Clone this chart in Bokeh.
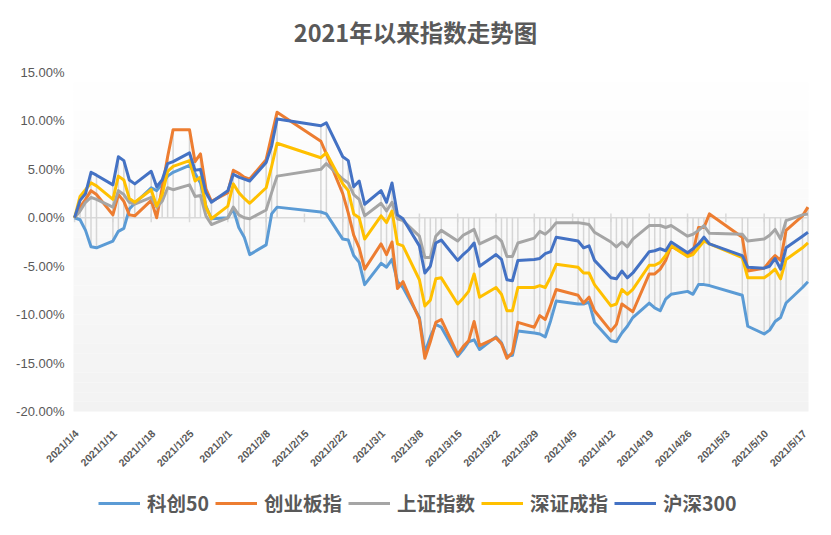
import numpy as np
import pandas as pd
from math import pi
from bokeh.plotting import figure
from bokeh.models import Range1d, Legend, LegendItem, BoxAnnotation, Label
from bokeh.core.properties import value
from bokeh.embed import file_html
from bokeh.resources import INLINE

# ---------------- data (percent change since 2021/1/4) ----------------
dates = [
    "2021-01-04", "2021-01-05", "2021-01-06", "2021-01-07", "2021-01-08",
    "2021-01-11", "2021-01-12", "2021-01-13", "2021-01-14", "2021-01-15",
    "2021-01-18", "2021-01-19", "2021-01-20", "2021-01-21", "2021-01-22",
    "2021-01-25", "2021-01-26", "2021-01-27", "2021-01-28", "2021-01-29",
    "2021-02-01", "2021-02-02", "2021-02-03", "2021-02-04", "2021-02-05",
    "2021-02-08", "2021-02-09", "2021-02-10", "2021-02-18", "2021-02-19",
    "2021-02-22", "2021-02-23", "2021-02-24", "2021-02-25", "2021-02-26",
    "2021-03-01", "2021-03-02", "2021-03-03", "2021-03-04", "2021-03-05",
    "2021-03-08", "2021-03-09", "2021-03-10", "2021-03-11", "2021-03-12",
    "2021-03-15", "2021-03-16", "2021-03-17", "2021-03-18", "2021-03-19",
    "2021-03-22", "2021-03-23", "2021-03-24", "2021-03-25", "2021-03-26",
    "2021-03-29", "2021-03-30", "2021-03-31", "2021-04-01", "2021-04-02",
    "2021-04-06", "2021-04-07", "2021-04-08", "2021-04-09",
    "2021-04-12", "2021-04-13", "2021-04-14", "2021-04-15", "2021-04-16",
    "2021-04-19", "2021-04-20", "2021-04-21", "2021-04-22", "2021-04-23",
    "2021-04-26", "2021-04-27", "2021-04-28", "2021-04-29", "2021-04-30",
    "2021-05-06", "2021-05-07", "2021-05-10", "2021-05-11", "2021-05-12",
    "2021-05-13", "2021-05-14", "2021-05-17", "2021-05-18",
]

kc50 = [  # 科创50
    0.0, -0.2, -1.3, -3.0, -3.1,
    -2.4, -1.4, -1.1, 0.9, 1.5,
    3.1, 2.8, 3.5, 4.3, 4.7,
    5.4, 4.6, 3.6, 1.2, -0.1,
    0.0, 0.9, -1.0, -2.0, -3.8,
    -2.8, 0.4, 1.1, 0.6, 0.4,
    -2.2, -2.3, -3.9, -4.6, -6.9,
    -4.7, -5.1, -4.3, -6.6, -7.2,
    -10.3, -13.9, -12.3, -11.0, -11.3,
    -14.3, -13.6, -12.8, -12.6, -13.6,
    -12.3, -12.9, -14.3, -14.2, -11.7,
    -11.9, -12.0, -12.3, -10.6, -8.6,
    -8.9, -8.9, -8.7, -10.8,
    -12.7, -12.8, -11.9, -11.2, -10.3,
    -8.8, -9.3, -9.6, -8.4, -7.9,
    -7.6, -7.9, -6.9, -6.9, -7.0,
    -8.0, -11.2, -12.0, -11.6, -10.7,
    -10.3, -8.8, -7.2, -6.6,
]

cyb = [  # 创业板指
    0.0, 1.1, 1.9, 2.8, 2.4,
    0.3, 2.4, 1.7, 0.3, 0.2,
    1.8, 0.0, 3.1, 6.3, 9.1,
    9.1, 5.8, 6.6, 3.0, 1.7,
    2.6, 4.9, 4.6, 4.2, 4.0,
    6.0, 8.5, 10.9, 7.9, 6.6,
    2.5, 0.5, -1.8, -3.1, -5.3,
    -2.7, -3.8, -2.5, -7.3, -6.6,
    -10.5, -14.5, -12.8, -10.8, -10.5,
    -14.1, -13.3, -12.7, -10.7, -13.2,
    -12.4, -13.0, -14.5, -13.9, -10.8,
    -11.3, -10.1, -10.5, -9.0, -7.4,
    -8.0, -8.8, -8.2, -9.6,
    -11.7, -11.0, -8.9, -9.3, -9.7,
    -5.8, -5.8, -5.3, -4.4, -2.9,
    -3.9, -3.6, -1.0, -1.0, 0.4,
    -2.0, -5.5, -5.2, -4.5, -3.9,
    -4.4, -1.3, 0.2, 1.1,
]

shzs = [  # 上证指数
    0.0, 0.7, 1.6, 2.1, 1.9,
    1.1, 2.8, 2.4, 1.6, 1.4,
    2.1, 1.1, 1.7, 3.1, 2.9,
    3.4, 2.2, 2.3, 0.2, -0.7,
    0.0, 1.1, 0.3, 0.0, -0.1,
    0.8, 2.6, 4.3, 5.0, 5.6,
    4.0, 3.6, 2.4, 1.9, 0.2,
    1.5, 0.7, 1.6, -0.1, -0.3,
    -1.9, -4.1, -4.1, -1.9, -1.3,
    -2.4, -1.8, -1.5, -1.2, -2.7,
    -1.9, -2.4, -4.0, -4.0, -2.6,
    -2.1, -1.4, -1.7, -1.2, -0.5,
    -0.5, -0.6, -0.7, -1.5,
    -2.5, -3.0, -2.5, -3.0, -2.2,
    -0.8, -0.8, -0.8, -1.0, -0.8,
    -1.9, -1.7, -1.3, -0.8, -1.6,
    -1.7, -2.4, -2.2, -1.8, -1.2,
    -2.2, -0.3, 0.3, 0.4,
]

szcz = [  # 深证成指
    0.0, 2.2, 2.9, 3.6, 3.3,
    1.9, 4.3, 3.9, 2.0, 1.6,
    2.9, 1.2, 2.4, 4.8, 5.3,
    5.9, 3.8, 4.2, 1.1, -0.1,
    1.2, 3.5, 2.6, 2.0, 1.5,
    3.1, 5.3, 7.7, 6.2, 6.7,
    3.5, 2.8, 0.4, 0.0, -2.2,
    0.2, -0.5, 0.7, -2.7, -2.9,
    -6.4, -9.1, -8.5, -6.3, -6.2,
    -8.9, -8.3, -7.6, -5.8, -8.2,
    -7.2, -7.9, -9.6, -9.6, -7.2,
    -7.2, -7.0, -7.2, -6.1, -4.8,
    -5.1, -5.7, -5.7, -6.9,
    -9.1, -8.9, -7.4, -7.9, -7.4,
    -4.9, -4.9, -4.6, -3.9, -2.9,
    -4.0, -3.8, -3.1, -2.4, -2.7,
    -4.1, -6.2, -6.2, -5.8, -5.3,
    -6.3, -4.3, -3.1, -2.6,
]

hs300 = [  # 沪深300
    0.0, 1.8, 2.5, 4.7, 4.4,
    3.4, 6.3, 5.9, 3.9, 3.5,
    4.8, 3.2, 3.9, 5.6, 5.8,
    6.7, 4.9, 5.0, 2.6, 1.6,
    2.8, 4.5, 4.2, 4.0, 3.8,
    5.7, 7.4, 10.2, 9.5, 9.8,
    6.3, 5.9, 3.2, 3.8, 1.4,
    2.8, 1.6, 3.6, 0.3, -0.1,
    -2.9, -5.7, -5.0, -2.6, -2.3,
    -4.4, -3.8, -3.3, -2.6, -5.0,
    -3.8, -4.3, -6.4, -6.5, -4.4,
    -4.3, -4.2, -3.7, -3.5, -2.0,
    -2.4, -3.1, -2.9, -4.4,
    -6.2, -6.3, -5.5, -6.2, -5.7,
    -3.5, -3.4, -3.2, -3.4, -2.5,
    -3.6, -3.2, -2.7, -2.0, -2.7,
    -3.9, -5.1, -5.2, -5.0, -4.2,
    -5.3, -3.1, -1.9, -1.5,
]

series_names = ["科创50", "创业板指", "上证指数", "深证成指", "沪深300"]
series_colors = ["#5B9BD5", "#ED7D31", "#A5A5A5", "#FFC000", "#4472C4"]

tick_dates = [
    "2021-01-04", "2021-01-11", "2021-01-18", "2021-01-25", "2021-02-01",
    "2021-02-08", "2021-02-15", "2021-02-22", "2021-03-01", "2021-03-08",
    "2021-03-15", "2021-03-22", "2021-03-29", "2021-04-05", "2021-04-12",
    "2021-04-19", "2021-04-26", "2021-05-03", "2021-05-10", "2021-05-17",
]
tick_labels = [
    "2021/1/4", "2021/1/11", "2021/1/18", "2021/1/25", "2021/2/1",
    "2021/2/8", "2021/2/15", "2021/2/22", "2021/3/1", "2021/3/8",
    "2021/3/15", "2021/3/22", "2021/3/29", "2021/4/5", "2021/4/12",
    "2021/4/19", "2021/4/26", "2021/5/3", "2021/5/10", "2021/5/17",
]
y_ticks = [-20, -15, -10, -5, 0, 5, 10, 15]
y_tick_labels = [f"{v:.2f}%" for v in y_ticks]

title_text = "2021年以来指数走势图"

# ---------------- layout geometry (pixels) ----------------
W, H = 815, 519
PLOT_L_PX, PLOT_R_PX = 73, 808      # horizontal extent of the plot area
PLOT_TOP_PX, PLOT_BOT_PX = 72, 411  # pixel rows of the 15% and -20% levels
TITLE_PX = (415, 31)
LEGEND_PX = (98, 2)                 # legend left, gap to bottom edge

x_start, x_end = -0.2, 134.1        # data extent of the plot area (days)
y_top, y_bot = y_ticks[-1], y_ticks[0]
ppu = (PLOT_BOT_PX - PLOT_TOP_PX) / (y_top - y_bot)      # px per percent
ppx = (PLOT_R_PX - PLOT_L_PX) / (x_end - x_start)        # px per day
xr0 = x_start - PLOT_L_PX / ppx
xr1 = x_end + (W - PLOT_R_PX) / ppx
yr1 = y_top + PLOT_TOP_PX / ppu
yr0 = y_bot - (H - PLOT_BOT_PX) / ppu

# ---------------- derived positions ----------------
base = pd.Timestamp("2021-01-04")
x = np.array((pd.to_datetime(dates) - base).days, dtype=float)
tick_x = [int(v) for v in (pd.to_datetime(tick_dates) - base).days]

all_series = [kc50, cyb, shzs, szcz, hs300]
arr = np.array(all_series, dtype=float)
hi = np.maximum(arr.max(axis=0), 0.0)
lo = np.minimum(arr.min(axis=0), 0.0)

# ---------------- figure ----------------
p = figure(
    width=W, height=H, output_backend="svg", toolbar_location=None,
    x_range=Range1d(xr0, xr1), y_range=Range1d(yr0, yr1),
    min_border=0,
)
p.outline_line_color = None
p.background_fill_color = "#ffffff"
p.border_fill_color = "#ffffff"
p.xgrid.grid_line_color = None
p.ygrid.grid_line_color = None
p.xaxis.visible = False
p.yaxis.visible = False

# plot-area gradient (white at top to light grey at bottom)
n_bands = 35
edges = np.linspace(y_top, y_bot, n_bands + 1)
for i in range(n_bands):
    t = (i + 0.5) / n_bands
    c = int(round(255 - (255 - 242) * t))
    p.add_layout(BoxAnnotation(left=x_start, right=x_end,
                               top=edges[i], bottom=edges[i + 1],
                               fill_color=f"#{c:02x}{c:02x}{c:02x}", fill_alpha=1.0,
                               line_color=None, level="underlay"))

# title
p.add_layout(Label(
    x=xr0 + TITLE_PX[0] / ppx, y=yr1 - TITLE_PX[1] / ppu,
    text=title_text, text_align="center", text_baseline="middle",
    text_font="Noto Sans CJK SC", text_font_size="23.5px", text_font_style="bold",
    text_color="#595959",
))

# zero (category axis) line with weekly tick marks
p.segment(x0=[x_start], y0=[0], x1=[x_end], y1=[0], line_color="#d9d9d9", line_width=1.5)
p.segment(x0=tick_x, y0=[-0.45] * len(tick_x), x1=tick_x, y1=[0.45] * len(tick_x),
          line_color="#d9d9d9", line_width=1.5)

# high-low lines
p.segment(x0=x, y0=lo, x1=x, y1=hi, line_color="#d6d6d6", line_width=1.5)

# series
renderers = []
for vals, col in zip(all_series, series_colors):
    r = p.line(x, vals, line_color=col, line_width=3, line_join="round")
    renderers.append(r)

# x tick labels (rotated), below the plot area
p.text(x=tick_x, y=[y_bot] * len(tick_x), text=tick_labels, angle=pi / 4,
       text_align="right", text_baseline="middle", x_offset=2, y_offset=20,
       text_font=value("Liberation Sans"), text_font_size="10.5px",
       text_font_style="bold", text_color="#595959")

# y tick labels, left of the plot area
p.text(x=[x_start] * len(y_ticks), y=y_ticks, text=y_tick_labels,
       text_align="right", text_baseline="middle", x_offset=-9,
       text_font=value("Liberation Sans"), text_font_size="13px",
       text_color="#595959")

# legend
legend = Legend(
    items=[LegendItem(label=n, renderers=[r]) for n, r in zip(series_names, renderers)],
    orientation="horizontal", location=LEGEND_PX,
    glyph_width=42, glyph_height=20, label_standoff=7, spacing=6,
    padding=0, margin=0, border_line_color=None, background_fill_alpha=0,
    label_text_font="Noto Sans CJK SC", label_text_font_size="19.5px",
    label_text_font_style="bold", label_text_color="#595959",
    label_height=20,
)
p.add_layout(legend)

open("out.html", "w").write(file_html(p, INLINE))
